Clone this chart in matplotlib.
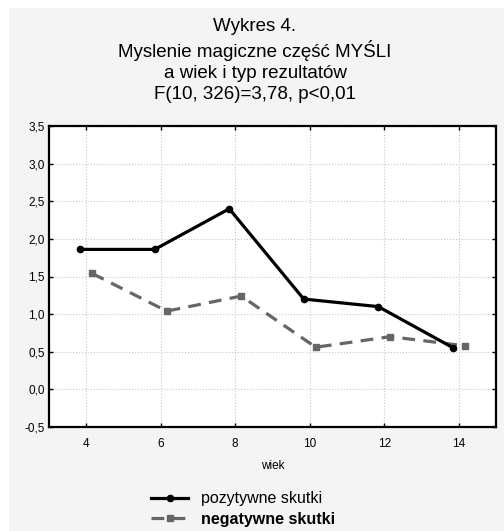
import matplotlib
matplotlib.use("Agg")
import matplotlib.pyplot as plt
import matplotlib.transforms as mtransforms
from matplotlib.patches import Rectangle
from matplotlib.ticker import FuncFormatter

plt.rcParams['font.family'] = ['Liberation Sans', 'DejaVu Sans']

# dane
wiek = [4, 6, 8, 10, 12, 14]
pozytywne = [1.86, 1.86, 2.40, 1.20, 1.10, 0.555]
negatywne = [1.54, 1.04, 1.24, 0.56, 0.70, 0.58]
y_ticks = [-0.5, 0.0, 0.5, 1.0, 1.5, 2.0, 2.5, 3.0, 3.5]

tytul = ("Wykres 4.\nMyslenie magiczne część MYŚLI\n"
         "a wiek i typ rezultatów\nF(10, 326)=3,78, p<0,01")

fig = plt.figure(figsize=(5.04, 5.31), dpi=100, facecolor='white')
fig.patches.append(Rectangle((9 / 504, 0), 1, 1 - 8 / 531, transform=fig.transFigure,
                             facecolor='#f4f4f4', edgecolor='none', zorder=-10))

ax = fig.add_axes([49 / 504, (531 - 427) / 531, 447 / 504, 301 / 531])
ax.set_facecolor('white')

# lekkie przesunięcie serii w poziomie (jak w oryginale)
tr_poz = mtransforms.offset_copy(ax.transData, fig=fig, x=-6, y=0, units='dots')
tr_neg = mtransforms.offset_copy(ax.transData, fig=fig, x=6, y=0, units='dots')

ax.plot(wiek, pozytywne, color='black', linewidth=2.3, marker='o', markersize=4.5,
        transform=tr_poz, label='pozytywne skutki', zorder=3)
ax.plot(wiek, negatywne, color='#666666', linewidth=2.3, linestyle=(0, (4, 2.6)),
        marker='s', markersize=5, transform=tr_neg, label='negatywne skutki', zorder=2)

ax.set_xlim(3, 15)
ax.set_ylim(-0.5, 3.5)
ax.set_xticks(wiek)
ax.set_yticks(y_ticks)
ax.yaxis.set_major_formatter(FuncFormatter(lambda v, p: f"{v:.1f}".replace('.', ',')))
ax.tick_params(direction='in', length=3, width=1, labelsize=8.5, top=True, right=True)
ax.tick_params(axis='y', pad=3)
ax.tick_params(axis='x', pad=8)
ax.grid(True, color='#c8c8c8', linestyle=':', linewidth=0.8)
for s in ax.spines.values():
    s.set_linewidth(1.6)

ax.set_xlabel('wiek', fontsize=8.5, labelpad=7)

fig.text(0.506, 0.966, tytul, ha='center', va='top', fontsize=13.5, linespacing=1.3)

leg = fig.legend(loc='upper left', bbox_to_anchor=(145 / 504, 1 - 485 / 531),
                 frameon=False, fontsize=11.5, handlelength=2.3, handletextpad=0.8,
                 labelspacing=0.35, borderaxespad=0)
leg.get_texts()[1].set_fontweight('bold')

fig.savefig('out.png', dpi=100, facecolor=fig.get_facecolor())
